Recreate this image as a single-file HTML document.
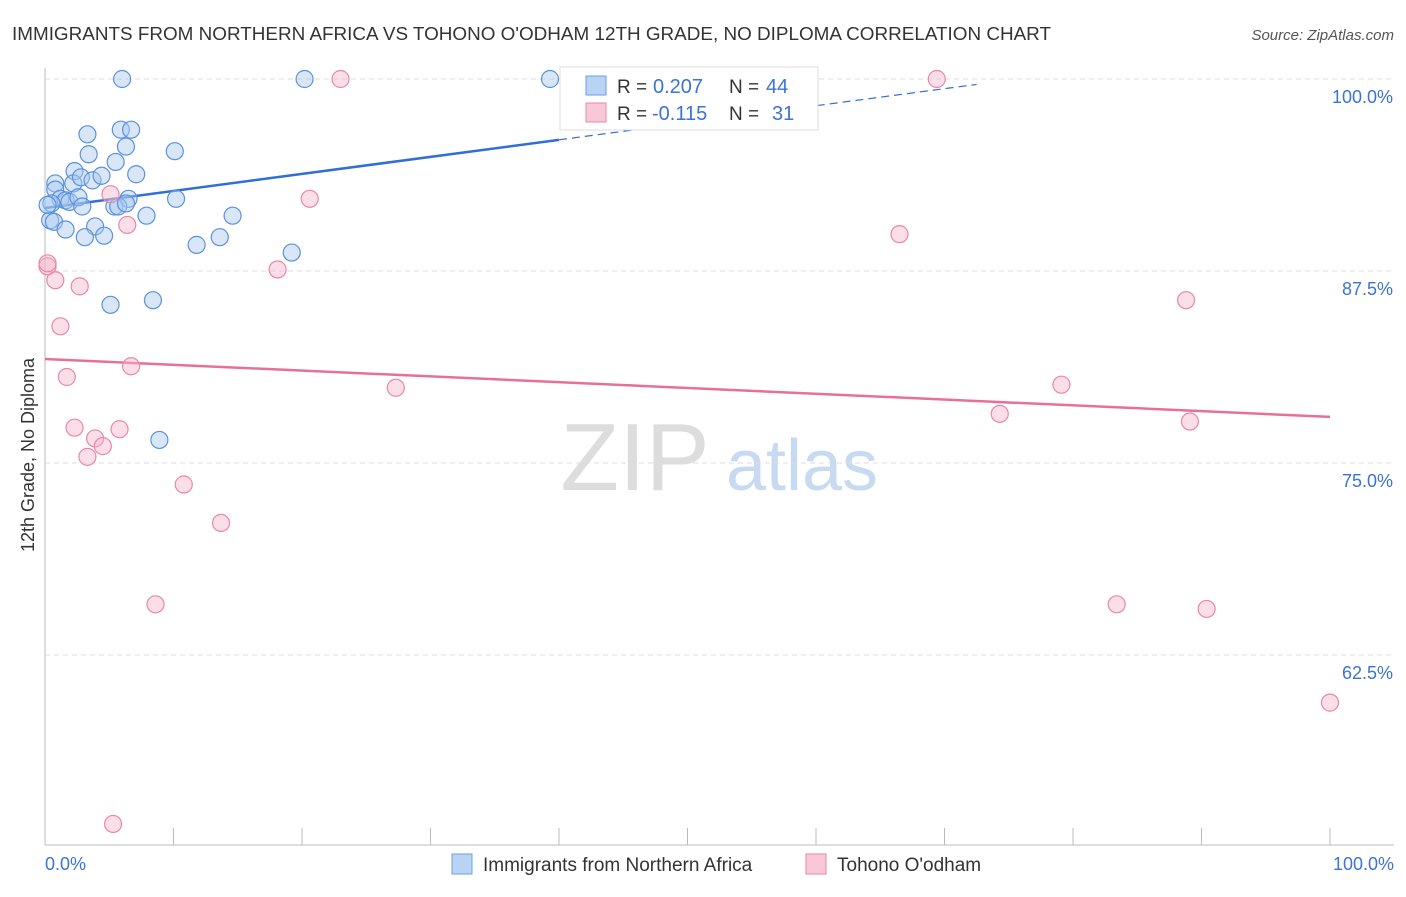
<!DOCTYPE html>
<html><head><meta charset="utf-8"><style>
body{margin:0;background:#fff;font-family:"Liberation Sans",sans-serif}
svg text{font-family:"Liberation Sans",sans-serif}
</style></head><body>
<svg id="chart" width="1406" height="892" xmlns="http://www.w3.org/2000/svg">
<text x="12" y="40" font-size="18" fill="#333" textLength="1039" lengthAdjust="spacingAndGlyphs">IMMIGRANTS FROM NORTHERN AFRICA VS TOHONO O'ODHAM 12TH GRADE, NO DIPLOMA CORRELATION CHART</text>
<text x="1394" y="40" font-size="15" fill="#555" font-style="italic" text-anchor="end">Source: ZipAtlas.com</text>
<text x="0" y="0" transform="translate(34,455) rotate(-90)" font-size="18" fill="#333" text-anchor="middle">12th Grade, No Diploma</text>
<g><text x="635" y="490" font-size="96" fill="#ddd" font-family="Liberation Serif" text-anchor="middle">ZIP</text><text x="802" y="490" font-size="72" fill="#c8daf2" text-anchor="middle">atlas</text></g>
<g id="grid"></g><g id="axes"></g><g id="lines"></g><g id="pts"></g>
<g>
<rect x="560" y="67" width="258" height="63" fill="#fff" stroke="#ddd"/>
<rect x="586" y="76" width="20" height="19" fill="#b9d3f5" stroke="#6a9fe0"/>
<text x="617" y="93" font-size="19" fill="#333">R =</text>
<text x="653" y="93" font-size="20" fill="#3d72d6">0.207</text>
<text x="729" y="93" font-size="19" fill="#333">N =</text>
<text x="766" y="93" font-size="20" fill="#3d72d6">44</text>
<rect x="586" y="103" width="20" height="19" fill="#f9c8d8" stroke="#e888a8"/>
<text x="617" y="120" font-size="19" fill="#333">R =</text>
<text x="652" y="120" font-size="20" fill="#3d72d6">-0.115</text>
<text x="729" y="120" font-size="19" fill="#333">N =</text>
<text x="772" y="120" font-size="20" fill="#3d72d6">31</text>
</g>
<g>
<rect x="452" y="854" width="20" height="20" fill="#b9d3f5" stroke="#6a9fe0"/>
<text x="483" y="871" font-size="19" fill="#333">Immigrants from Northern Africa</text>
<rect x="806" y="854" width="20" height="20" fill="#f9c8d8" stroke="#e888a8"/>
<text x="837" y="871" font-size="19" fill="#333">Tohono O'odham</text>
</g>
</svg>
<script>
const blueX=[6,20.2,39.3,3.3,5.9,6.7,6.3,3.4,5.5,10.1,7.1,2.3,0.8,2.2,2.8,3.7,4.4,0.8,1.2,1.6,1.9,2.6,0.5,2.9,6.5,5.4,5.7,6.3,10.2,7.9,14.6,0.4,0.7,1.6,3.9,3.1,4.6,11.8,13.6,19.2,5.1,8.4,8.9,0.2];
const blueY=[100,100,100,96.4,96.7,96.7,95.6,95.1,94.6,95.3,93.8,94,93.2,93.2,93.6,93.4,93.7,92.8,92.2,92.1,92,92.3,91.9,91.7,92.2,91.7,91.7,91.9,92.2,91.1,91.1,90.8,90.7,90.2,90.4,89.7,89.8,89.2,89.7,88.7,85.3,85.6,76.5,91.8];
const pinkX=[23,69.4,5.1,20.6,6.4,66.5,0.2,18.1,0.8,2.7,88.8,1.2,6.7,1.7,27.3,79.1,74.3,89.1,2.3,3.9,5.8,4.5,3.3,10.8,13.7,8.6,83.4,90.4,100,5.3,0.2];
const pinkY=[100,100,92.5,92.2,90.5,89.9,87.8,87.6,86.9,86.5,85.6,83.9,81.3,80.6,79.9,80.1,78.2,77.7,77.3,76.6,77.2,76.1,75.4,73.6,71.1,65.8,65.8,65.5,59.4,51.5,88];
const yTicks=[100,87.5,75,62.5];
const yTickLabels=["100.0%","87.5%","75.0%","62.5%"];
const xTickLabels=["0.0%","100.0%"];
const blueFit=[91.6,102.7];
const pinkFit=[81.77,78.0];
const ns="http://www.w3.org/2000/svg";
const X=v=>45+v*12.85, Y=v=>79+(100-v)*15.36;
function mk(t,a,p){const e=document.createElementNS(ns,t);for(const k in a)e.setAttribute(k,a[k]);p.appendChild(e);return e;}
const grid=document.getElementById('grid'),axes=document.getElementById('axes'),lines=document.getElementById('lines'),pts=document.getElementById('pts');
yTicks.forEach((v,i)=>{
 const l=mk('line',{x1:45,x2:1394,y1:Y(v),y2:Y(v),stroke:'#ddd','stroke-dasharray':'5,4'},grid);
 
 
 const t=mk('text',{x:1393,y:Y(v)+24,'font-size':18,fill:'#3d72d6','text-anchor':'end'},axes);
 t.textContent=yTickLabels[i];
 
 
});
mk('line',{x1:45,x2:45,y1:68,y2:845,stroke:'#bbb'},axes);
mk('line',{x1:45,x2:1394,y1:845,y2:845,stroke:'#bbb'},axes);
for(let i=0;i<=10;i++){mk('line',{x1:X(i*10),x2:X(i*10),y1:828,y2:845,stroke:'#bbb'},axes);}
[[0,'start',45],[100,'end',1394]].forEach((d,i)=>{const t=mk('text',{x:d[2],y:870,'font-size':18,fill:'#3d72d6','text-anchor':d[1]},axes);t.textContent=xTickLabels[i];

});
function drawPts(xs,ys,fill,stroke,name){xs.forEach((x,i)=>{const c=mk('circle',{cx:X(x),cy:Y(ys[i]),r:8.5,fill:fill,'fill-opacity':0.45,stroke:stroke,'stroke-width':1.2},pts);

});}
drawPts(blueX,blueY,'#a9c8f0','#5a92dc','blue-point');
drawPts(pinkX,pinkY,'#f6b6cb','#e888a8','pink-point');
const bAt=x=>blueFit[0]+(blueFit[1]-blueFit[0])*x/100;
const b1=mk('line',{x1:X(0),y1:Y(bAt(0)),x2:X(40),y2:Y(bAt(40)),stroke:'#2f6fd6','stroke-width':2.5},lines);


const xe=72.5;
const b2=mk('line',{x1:X(40),y1:Y(bAt(40)),x2:X(xe),y2:Y(bAt(xe)),stroke:'#2f6fd6','stroke-width':1.2,'stroke-dasharray':'8,5'},lines);


const p1=mk('line',{x1:X(0),y1:Y(pinkFit[0]),x2:X(100),y2:Y(pinkFit[1]),stroke:'#e86f9a','stroke-width':2.5},lines);


</script>
</body></html>
